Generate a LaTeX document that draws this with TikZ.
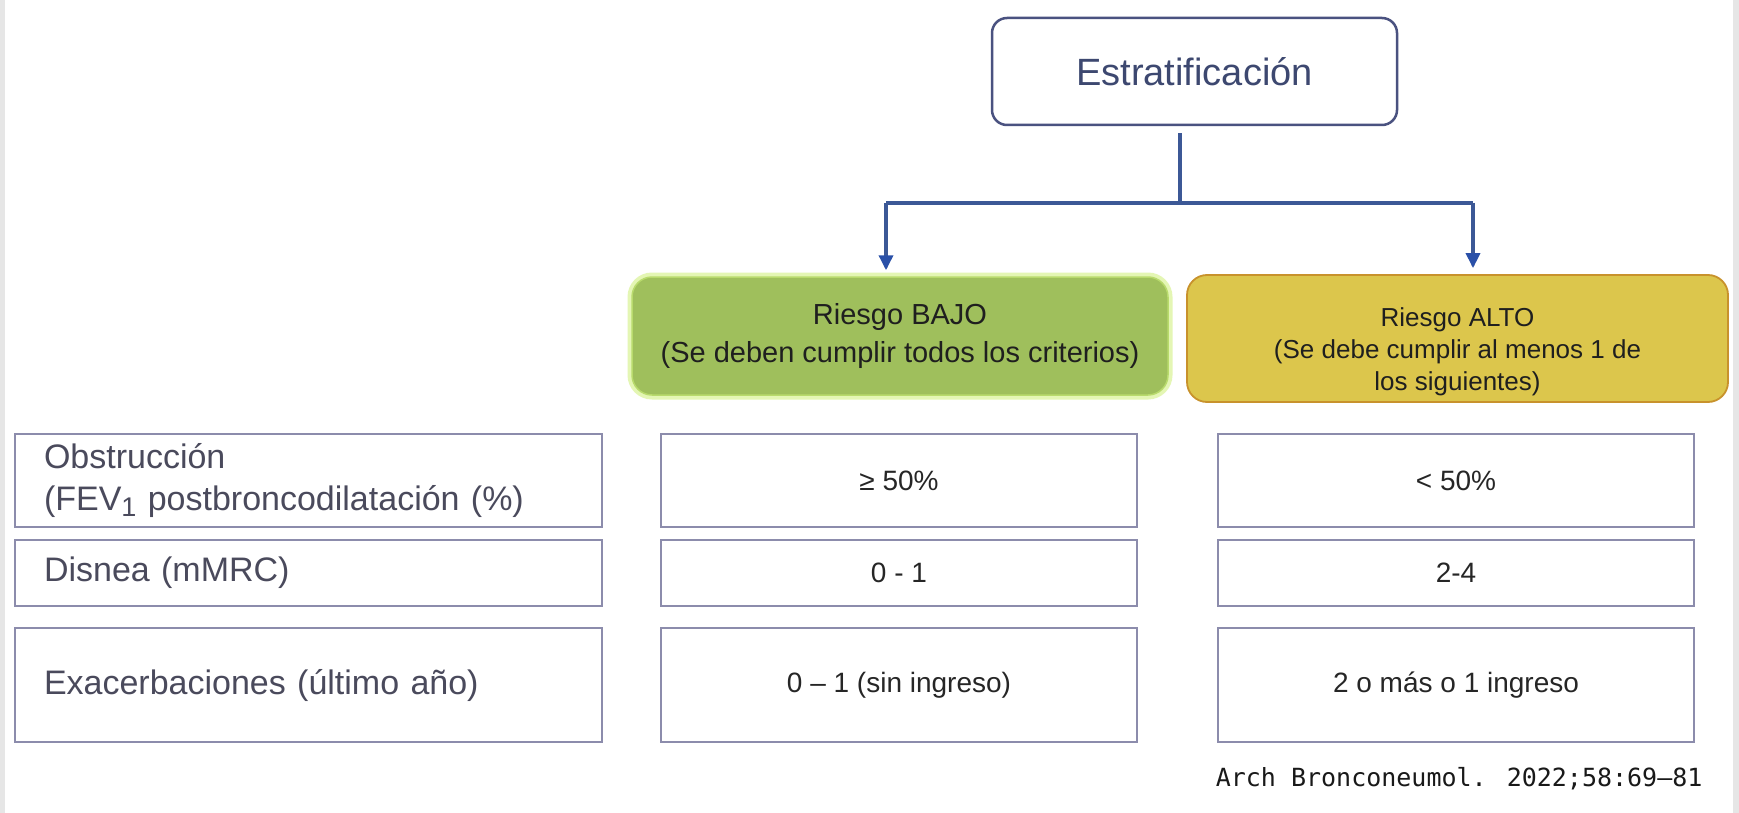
\documentclass[tikz,border=0pt]{standalone}
\usepackage{fontspec}
\setmainfont{Liberation Sans}
\newfontfamily\citefont{DejaVu Sans Mono}
\usetikzlibrary{arrows.meta}

\definecolor{stratline}{HTML}{4A5280}
\definecolor{strattext}{HTML}{3D4870}
\definecolor{connblue}{HTML}{3C5896}
\definecolor{tipblue}{HTML}{2A50A8}
\definecolor{lowfill}{HTML}{9FBF5C}
\definecolor{lowline}{HTML}{B8DA6C}
\definecolor{lowglow}{HTML}{E4F6B4}
\definecolor{highfill}{HTML}{DCC64C}
\definecolor{highline}{HTML}{C8922C}
\definecolor{gridline}{HTML}{8C8CAC}
\definecolor{labeltext}{HTML}{4A4A5C}
\definecolor{valuetext}{HTML}{262626}
\definecolor{edgegray}{HTML}{E6E6E6}

\tikzset{
  stratbox/.style={draw=stratline, line width=2.5pt, rounded corners=15pt, fill=white,
    minimum width=405pt, minimum height=107pt, inner sep=0pt, text=strattext,
    font=\fontsize{38}{44}\selectfont},
  lowbox/.style={fill=lowfill, draw=lowline, line width=1.5pt, rounded corners=20pt,
    preaction={draw=lowglow, line width=9pt, rounded corners=20pt},
    minimum width=536pt, minimum height=118pt, inner sep=0pt, align=center,
    text=black!88, font=\fontsize{29}{37}\selectfont},
  highbox/.style={fill=highfill, draw=highline, line width=1.8pt, rounded corners=20pt,
    minimum width=541pt, minimum height=127pt, inner sep=0pt},
  hightext/.style={inner sep=0pt, align=center, text=black!88,
    font=\fontsize{26}{32}\selectfont},
  labelcell/.style={draw=gridline, line width=2pt, inner xsep=29pt, inner ysep=0pt,
    text width=529pt, align=left, text=labeltext, font=\fontsize{34}{42}\selectfont},
  valuecell/.style={draw=gridline, line width=2pt, inner sep=0pt, minimum width=476pt,
    align=center, text=valuetext, font=\fontsize{28}{34}\selectfont},
  conn/.style={connblue, line width=3.5pt},
  connshadow/.style={black!35, opacity=0.45, line width=4pt, shift={(2.5,2.5)}},
  arr/.style={conn, -{Triangle[length=15pt, width=14pt, color=tipblue]}, shorten >=6pt},
  citetext/.style={font=\citefont\fontsize{25}{30}\selectfont, text=black!90}
}

\begin{document}
\begin{tikzpicture}[x=1pt, y=-1pt]
  % canvas and the thin grey margins at both sides
  \useasboundingbox (0,0) rectangle (1739,813);
  \fill[white] (0,0) rectangle (1739,813);
  \fill[edgegray] (0,0) rectangle (5,813);
  \fill[edgegray] (1733,0) rectangle (1739,813);

  % header and the two risk groups
  \node[stratbox] (strat) at (1194.5,71.5) {Estratificación};
  \node[lowbox] (bajo) at (900,336) {Riesgo BAJO\\(Se deben cumplir todos los criterios)};
  \node[highbox] (alto) at (1457.5,338.5) {};
  \node[hightext] (altotext) at ([yshift=-13pt]alto.center)
    {Riesgo ALTO\\(Se debe cumplir al menos 1 de\\los siguientes)};

  % branching connector
  \coordinate (fork) at (1180,203);
  \coordinate (lbr) at (886,203);
  \coordinate (rbr) at (1473,203);
  \draw[connshadow] ([yshift=-7pt]strat.south -| fork) -- (fork);
  \draw[connshadow] (lbr) -- (rbr);
  \draw[connshadow] (lbr) -- ([yshift=8pt]lbr |- bajo.north);
  \draw[connshadow] (rbr) -- ([yshift=8pt]rbr |- alto.north);
  \draw[conn] ([yshift=-7pt]strat.south -| fork) -- (fork);
  \draw[conn] (lbr) -- (rbr);
  \draw[arr] (lbr) -- (lbr |- bajo.north);
  \draw[arr] (rbr) -- (rbr |- alto.north);

  % criteria table: labels
  \node[labelcell, minimum height=93pt] (l1) at (308.5,480.5)
    {Obstrucción\\(FEV\raisebox{-0.35ex}{\fontsize{27}{27}\selectfont 1} postbroncodilatación (\%)};
  \node[labelcell, minimum height=66pt] (l2) at (308.5,573) {Disnea (mMRC)};
  \node[labelcell, minimum height=114pt] (l3) at (308.5,685) {Exacerbaciones (último año)};

  % criteria table: low-risk values
  \node[valuecell, minimum height=93pt] (m1) at (899,480.5) {≥ 50\%};
  \node[valuecell, minimum height=66pt] (m2) at (899,573) {0 - 1};
  \node[valuecell, minimum height=114pt] (m3) at (899,685) {0 – 1 (sin ingreso)};

  % criteria table: high-risk values
  \node[valuecell, minimum height=93pt] (r1) at (1456,480.5) {< 50\%};
  \node[valuecell, minimum height=66pt] (r2) at (1456,573) {2-4};
  \node[valuecell, minimum height=114pt] (r3) at (1456,685) {2 o más o 1 ingreso};

  % source line
  \node[citetext, anchor=east] (cite) at (1706,779) {Arch Bronconeumol. 2022;58:69–81};
\end{tikzpicture}
\end{document}
